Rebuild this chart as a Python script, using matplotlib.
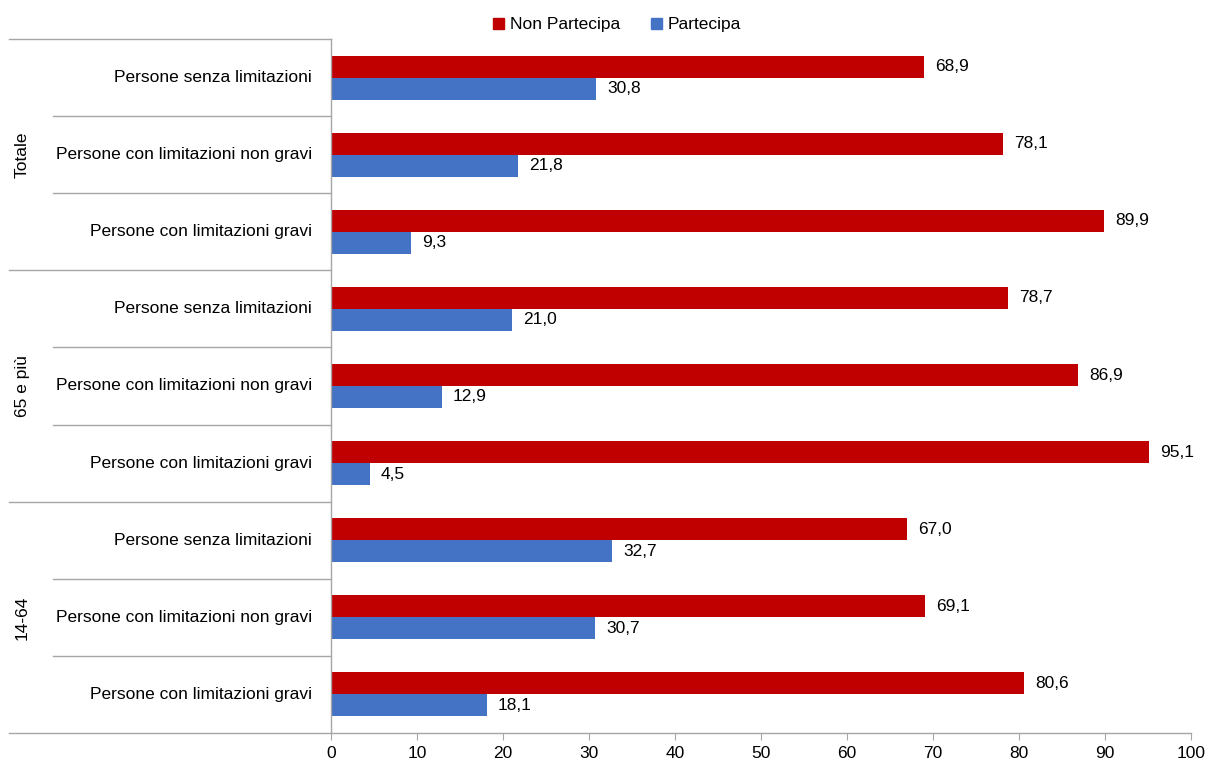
import matplotlib
matplotlib.use("Agg")
import matplotlib.pyplot as plt
from matplotlib.lines import Line2D
from matplotlib.patches import Patch
import numpy as np

plt.rcParams['font.family'] = ['Liberation Sans Narrow', 'Liberation Sans', 'DejaVu Sans']

# data
groups = ["Totale", "65 e più", "14-64"]
categories = ["Persone senza limitazioni",
              "Persone con limitazioni non gravi",
              "Persone con limitazioni gravi"] * 3
non_partecipa = [68.9, 78.1, 89.9, 78.7, 86.9, 95.1, 67.0, 69.1, 80.6]
partecipa = [30.8, 21.8, 9.3, 21.0, 12.9, 4.5, 32.7, 30.7, 18.1]

red = "#C00000"
blue = "#4472C4"
grey = "#A6A6A6"
fs = 12.5

fig = plt.figure(figsize=(12.11, 7.68), dpi=100)
ax = fig.add_axes([331 / 1211, 1 - 733 / 768, 860 / 1211, 694 / 768])

y = np.arange(len(categories))
h = 0.285
ax.barh(y - h / 2, non_partecipa, height=h, color=red, label="Non Partecipa")
ax.barh(y + h / 2, partecipa, height=h, color=blue, label="Partecipa")

for yi, v in zip(y, non_partecipa):
    ax.annotate(f"{v:.1f}".replace(".", ","), (v, yi - h / 2), xytext=(8, 0),
                textcoords="offset points", va="center", ha="left", fontsize=fs)
for yi, v in zip(y, partecipa):
    ax.annotate(f"{v:.1f}".replace(".", ","), (v, yi + h / 2), xytext=(8, 0),
                textcoords="offset points", va="center", ha="left", fontsize=fs)

ax.set_xlim(0, 100)
ax.set_ylim(len(categories) - 0.5, -0.5)
ax.set_xticks(range(0, 101, 10))
ax.tick_params(axis="x", direction="out", length=5, color=grey, labelsize=fs, pad=4)
ax.set_yticks([])
for s in ["top", "right"]:
    ax.spines[s].set_visible(False)
for s in ["left", "bottom"]:
    ax.spines[s].set_color(grey)
    ax.spines[s].set_linewidth(1)

# multi-level category labels on the left
trans = ax.get_yaxis_transform()
x_outer = -(331 - 9) / 860
x_inner = -(331 - 53) / 860
for i, cat in enumerate(categories):
    ax.text(-19 / 860, i, cat, transform=trans, ha="right", va="center",
            fontsize=fs, clip_on=False)
for b in np.arange(-0.5, len(categories), 1.0):
    x0 = x_outer if (b + 0.5) % 3 == 0 else x_inner
    ax.add_line(Line2D([x0, 0], [b, b], transform=trans, color=grey, lw=1,
                       clip_on=False))
for g, name in enumerate(groups):
    ax.text(-(331 - 22) / 860, g * 3 + 1, name, transform=trans, rotation=90,
            ha="center", va="center", fontsize=fs, clip_on=False)

handles = [Patch(color=red), Patch(color=blue)]
fig.legend(handles, ["Non Partecipa", "Partecipa"], loc="center",
           bbox_to_anchor=(617 / 1211, 1 - 25 / 768), ncol=2, frameon=False,
           fontsize=fs, handlelength=0.63, handleheight=0.63, handletextpad=0.3,
           columnspacing=1.8)

fig.savefig("out.png", dpi=100)
